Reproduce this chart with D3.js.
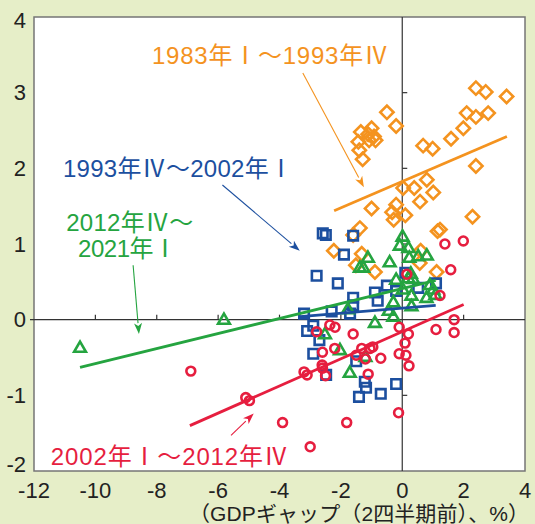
<!DOCTYPE html>
<html>
<head>
<meta charset="utf-8">
<script src="https://cdn.jsdelivr.net/npm/d3@7/dist/d3.min.js"></script>
<style>
  html, body { margin: 0; padding: 0; background: #e6eec8; }
  svg { display: block; }
  text { font-family: "Liberation Sans", "Noto Sans CJK JP", sans-serif; }
</style>
</head>
<body>
<svg id="chart" width="535" height="524"></svg>
<script>
// 1983 I - 1993 IV
var orangePts = [
  [-0.5, 2.74], [-0.2, 2.56], [-1.35, 2.48], [-1.0, 2.53], [-1.11, 2.45], [-0.92, 2.42],
  [-1.43, 2.35], [-1.08, 2.37], [-0.87, 2.37], [-1.4, 2.24], [-1.29, 2.12],
  [2.4, 3.06], [2.72, 3.01], [3.4, 2.95], [2.1, 2.73], [2.4, 2.68], [2.8, 2.73],
  [1.99, 2.53], [1.59, 2.39], [0.68, 2.3], [0.99, 2.26], [2.4, 2.03],
  [0.03, 1.74], [0.39, 1.74], [0.8, 1.85], [1.01, 1.68], [0.58, 1.56],
  [-1.0, 1.47], [-0.2, 1.52], [-0.33, 1.42], [-0.28, 1.32], [0.1, 1.38],
  [-1.38, 1.21], [-1.6, 1.12], [1.23, 1.19], [1.15, 1.17], [2.29, 1.36],
  [-2.23, 0.91], [-1.32, 0.87], [-1.51, 0.72], [-0.89, 0.63], [0.6, 0.91], [0.57, 0.75], [1.12, 0.63]
];
// 1993 IV - 2002 I
var bluePts = [
  [-2.59, 1.14], [-2.49, 1.12], [-1.6, 1.11], [-1.9, 0.86], [-2.79, 0.58], [-2.1, 0.48],
  [0.1, 0.62], [-0.5, 0.45], [-0.89, 0.36], [-0.8, 0.25], [-1.6, 0.29], [-1.6, 0.19],
  [-0.2, 0.38], [1.1, 0.48], [0.52, 0.42], [-3.2, 0.08], [-2.3, 0.11], [-1.7, 0.08],
  [-3.1, -0.15], [-2.9, -0.08], [-2.7, -0.27], [-2.9, -0.45], [-1.5, -0.55], [-2.48, -0.73],
  [-1.22, -0.82], [-1.18, -0.9], [-1.41, -1.02], [-0.7, -0.98], [-0.2, -0.85]
];
// 2012 IV - 2021 I
var greenPts = [
  [-10.5, -0.38], [-5.81, -0.01], [0.01, 1.09], [-0.08, 0.97], [0.2, 0.94], [-1.12, 0.81],
  [-0.41, 0.75], [-1.38, 0.68], [-1.27, 0.68], [0.23, 0.81], [0.52, 0.83], [0.8, 0.84],
  [-0.2, 0.52], [0.2, 0.54], [0.35, 0.53], [0.28, 0.6], [0.9, 0.45], [0.02, 0.39],
  [0.3, 0.31], [0.79, 0.28], [1.08, 0.32], [1.01, 0.39], [-0.29, 0.22], [0.3, 0.17],
  [-1.77, 0.13], [-0.44, 0.11], [-0.29, 0.03], [-0.89, -0.05], [-2.52, -0.2],
  [-2.03, -0.41], [-1.2, -0.5], [-1.71, -0.71]
];
// 2002 I - 2012 IV
var redPts = [
  [-6.89, -0.68], [-5.1, -1.03], [-4.98, -1.07], [-3.9, -1.36], [-3.0, -1.68], [-1.81, -1.36],
  [-0.12, -1.23], [-3.2, -0.69], [-3.1, -0.73], [-2.61, -0.6], [-2.6, -0.64], [-2.5, -0.74],
  [-2.6, -0.43], [-2.79, -0.16], [-2.36, -0.07], [-2.19, -0.1], [-2.2, -0.38], [-1.6, -0.19],
  [-1.5, -0.47], [-1.32, -0.38], [-1.05, -0.38], [-0.96, -0.36], [-1.2, -0.52], [-1.11, -0.72],
  [-0.7, -0.51], [-0.1, -0.1], [-0.1, -0.45], [0.2, -0.19], [0.09, -0.31], [0.12, -0.47],
  [0.22, -0.61], [0.15, 0.6], [1.23, 0.32], [1.1, -0.13], [1.69, 0.0], [1.69, -0.17],
  [1.58, 0.66], [1.39, 1.0], [1.99, 1.04]
];

// fitted lines, [x1, y1, x2, y2]
var orangeFit = [-2.22, 1.44, 3.41, 2.42];
var blueFit = [-3.33, 0.04, 1.09, 0.19];
var greenFit = [-10.5, -0.63, 1.09, 0.52];
var redFit = [-6.92, -1.4, 2.0, 0.2];

var xTicks = [-12, -10, -8, -6, -4, -2, 0, 2, 4];
var yTicks = [-2, -1, 0, 1, 2, 3, 4];
var labels = ["1983年Ⅰ～1993年Ⅳ", "1993年Ⅳ～2002年Ⅰ", "2012年Ⅳ～", "2021年Ⅰ", "2002年Ⅰ～2012年Ⅳ"];
var xTitle = "（GDPギャップ（2四半期前）、%）";

var colors = { orange: "#f4931f", blue: "#1c4f9f", green: "#25a440", red: "#e61e3f" };

var svg = d3.select("#chart");
var x = d3.scaleLinear().domain([-12, 4]).range([34, 525]);
var y = d3.scaleLinear().domain([-2, 4]).range([471, 17]);

svg.append("rect")
  .attr("x", x(-12)).attr("y", y(4))
  .attr("width", x(4) - x(-12)).attr("height", y(-2) - y(4))
  .attr("fill", "#fff").attr("stroke", "#767676").attr("stroke-width", 1.5);

// zero lines
svg.append("line").attr("x1", x(-12) - 4).attr("x2", x(4)).attr("y1", y(0)).attr("y2", y(0))
  .attr("stroke", "#333").attr("stroke-width", 1.2);
svg.append("line").attr("x1", x(0)).attr("x2", x(0)).attr("y1", y(4)).attr("y2", y(-2))
  .attr("stroke", "#333").attr("stroke-width", 1.2);

// small ticks on the zero lines
svg.selectAll(".xt").data(xTicks.filter(function(d) { return d !== 0 && d > -12 && d < 4; }))
  .enter().append("line").attr("class", "xt")
  .attr("x1", function(d) { return x(d); }).attr("x2", function(d) { return x(d); })
  .attr("y1", y(0)).attr("y2", y(0) - 5)
  .attr("stroke", "#333").attr("stroke-width", 1.2);
svg.selectAll(".yt").data(yTicks.filter(function(d) { return d !== 0 && d > -2 && d < 4; }))
  .enter().append("line").attr("class", "yt")
  .attr("x1", x(0)).attr("x2", x(0) + 5)
  .attr("y1", function(d) { return y(d); }).attr("y2", function(d) { return y(d); })
  .attr("stroke", "#333").attr("stroke-width", 1.2);

// tick labels
svg.selectAll(".xl").data(xTicks).enter().append("text").attr("class", "xl")
  .attr("x", function(d) { return x(d); }).attr("y", 498)
  .attr("text-anchor", "middle").attr("font-size", 22).attr("fill", "#222")
  .text(function(d) { return d; });
svg.selectAll(".yl").data(yTicks).enter().append("text").attr("class", "yl")
  .attr("x", 26)
  .attr("y", function(d) { return y(d) + (d === -2 ? -7 : d === 4 ? 3 : 0); })
  .attr("dy", "0.35em")
  .attr("text-anchor", "end").attr("font-size", 22).attr("fill", "#222")
  .text(function(d) { return d; });

svg.append("text").attr("x", 359).attr("y", 521).attr("text-anchor", "middle")
  .attr("font-size", 21).attr("textLength", 340).attr("lengthAdjust", "spacing")
  .attr("fill", "#222").text(xTitle);

// markers
function drawPts(data, type, color, size, rot) {
  svg.append("g").selectAll("path").data(data).enter().append("path")
    .attr("d", d3.symbol().type(type).size(size))
    .attr("transform", function(d) {
      return "translate(" + x(d[0]) + "," + y(d[1]) + ")" + (rot ? " rotate(" + rot + ")" : "");
    })
    .attr("fill", "none").attr("stroke", color).attr("stroke-width", 2.6);
}
drawPts(orangePts, d3.symbolSquare, colors.orange, 88, 45);
drawPts(bluePts, d3.symbolSquare, colors.blue, 90, 0);
drawPts(greenPts, d3.symbolTriangle, colors.green, 60, 0);
drawPts(redPts, d3.symbolCircle, colors.red, 62, 0);

// fitted lines
[[orangeFit, colors.orange], [blueFit, colors.blue], [greenFit, colors.green], [redFit, colors.red]]
  .forEach(function(f) {
    svg.append("line")
      .attr("x1", x(f[0][0])).attr("y1", y(f[0][1]))
      .attr("x2", x(f[0][2])).attr("y2", y(f[0][3]))
      .attr("stroke", f[1]).attr("stroke-width", 2.8);
  });

// annotation arrows [x1, y1, tipX, tipY]
var arrows = [
  [[-3.24, 3.26, -1.25, 1.75], colors.orange],
  [[-5.86, 1.78, -3.34, 0.91], colors.blue],
  [[-8.77, 0.72, -8.58, -0.19], colors.green],
  [[-5.58, -1.53, -4.84, -1.24], colors.red]
];
arrows.forEach(function(a) {
  var x1 = x(a[0][0]), y1 = y(a[0][1]), x2 = x(a[0][2]), y2 = y(a[0][3]);
  var ang = Math.atan2(y2 - y1, x2 - x1);
  var len = 11, half = 4;
  var bx = x2 - len * Math.cos(ang), by = y2 - len * Math.sin(ang);
  svg.append("line").attr("x1", x1).attr("y1", y1).attr("x2", bx).attr("y2", by)
    .attr("stroke", a[1]).attr("stroke-width", 1.1);
  svg.append("path")
    .attr("d", "M" + x2 + "," + y2 +
      "L" + (bx + half * Math.sin(ang)) + "," + (by - half * Math.cos(ang)) +
      "L" + (bx + 3 * Math.cos(ang)) + "," + (by + 3 * Math.sin(ang)) +
      "L" + (bx - half * Math.sin(ang)) + "," + (by + half * Math.cos(ang)) + "Z")
    .attr("fill", a[1]);
});

// annotation labels [x, y(baseline), width px]
var labelPos = [
  [-4.31, 3.385, 236, colors.orange],
  [-7.31, 1.886, 230, colors.blue],
  [-8.88, 1.173, 127, colors.green],
  [-8.95, 0.823, 99, colors.green],
  [-7.59, -1.918, 237, colors.red]
];
labelPos.forEach(function(p, i) {
  svg.append("text")
    .attr("x", x(p[0])).attr("y", y(p[1]))
    .attr("text-anchor", "middle").attr("font-size", 24)
    .attr("textLength", p[2]).attr("lengthAdjust", "spacing")
    .attr("fill", p[3]).text(labels[i]);
});
</script>
</body>
</html>
